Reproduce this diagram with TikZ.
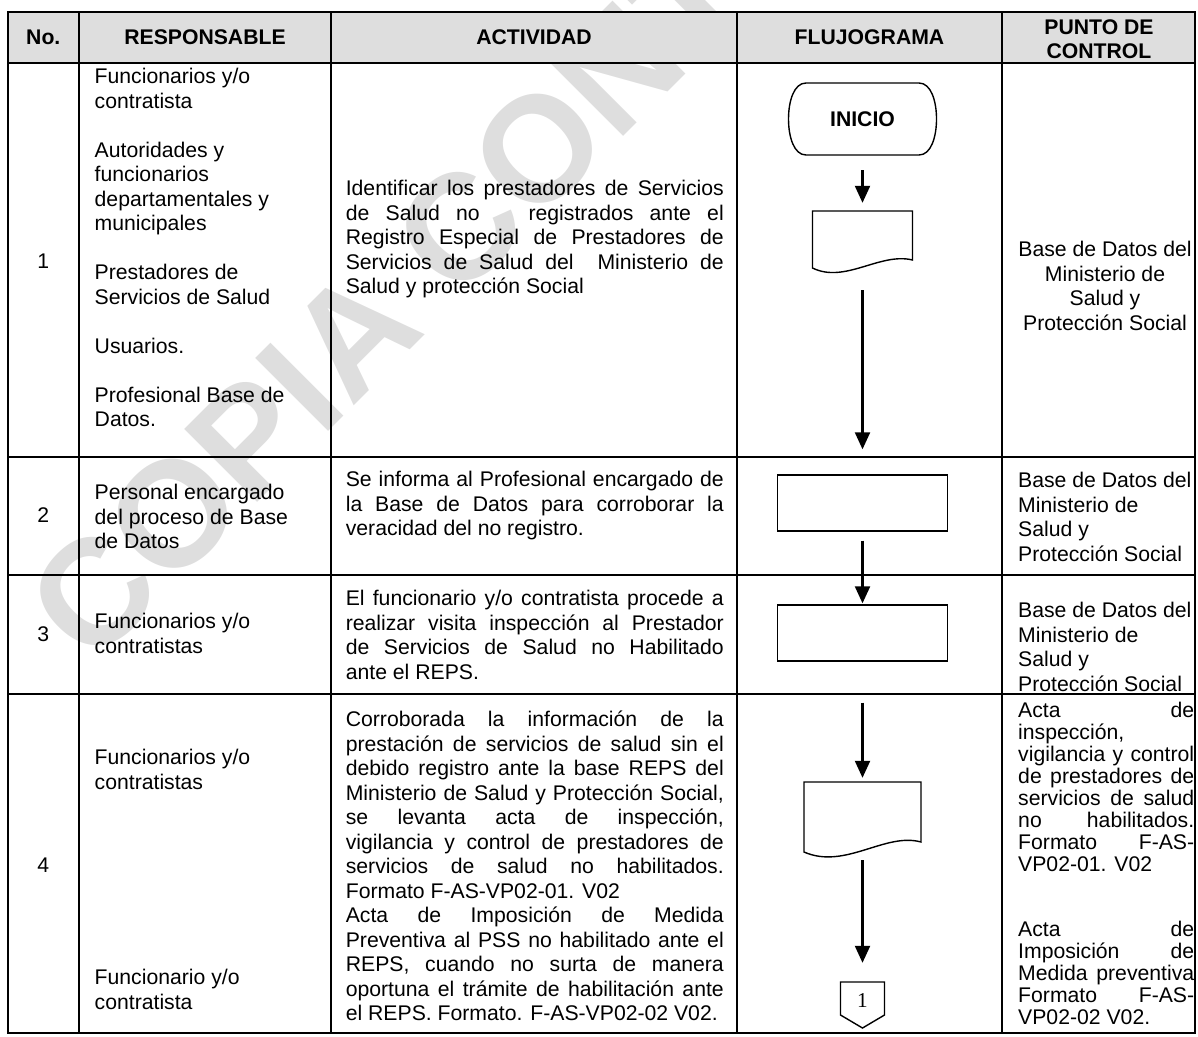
\documentclass[tikz,border=0pt]{standalone}
\usepackage{fontspec}
\setmainfont{Liberation Sans}
\newfontfamily\fuenteserif{Liberation Serif}
\usetikzlibrary{arrows.meta,positioning}
\definecolor{grisclaro}{gray}{0.87}
\tolerance=10000 \hbadness=10000 \hyphenpenalty=10000 \exhyphenpenalty=10000

\begin{document}
\begin{tikzpicture}[x=1pt,y=-1pt,
  borde/.style={line width=2pt},
  forma/.style={line width=1.4pt},
  caja/.style={draw,forma,inner sep=0pt,minimum width=170pt,minimum height=56pt},
  flecha/.style={line width=2.2pt,-{Triangle[length=17pt,width=15pt]}},
  texto/.style={inner sep=0pt,anchor=north west,align=left,font=\fontsize{21.2}{24.5}\selectfont},
  justo/.style={texto,align=justify,text width=#1},
  titulo/.style={inner sep=0pt,align=center,font=\bfseries\fontsize{21.2}{24.5}\selectfont},
  numero/.style={inner sep=0pt,font=\fontsize{21.2}{24.5}\selectfont},
  marca/.style={inner sep=0pt,rotate=45,text=grisclaro,font=\bfseries\fontsize{150}{150}\selectfont}]

\useasboundingbox (0,0) rectangle (1198,1036);

% encabezado y marca de agua
\fill[grisclaro] (7.5,12) rectangle (1195,63);
\node[marca] (copia) at (615,72) {COPIA CONTROLADA};

% tabla
\draw[borde] (7.5,12) rectangle (1195,1033);
\foreach \y in {63,456.5,575,694} \draw[borde] (7.5,\y) -- (1195,\y);
\foreach \x in {79,331,737,1002} \draw[borde] (\x,12) -- (\x,1033);

\node[titulo] (hno) at (43.3,37.5) {No.};
\node[titulo] (hresp) at (205,37.5) {RESPONSABLE};
\node[titulo] (hact) at (534,37.5) {ACTIVIDAD};
\node[titulo] (hflujo) at (869.5,37.5) {FLUJOGRAMA};
\node[titulo] (hpunto) at (1099,39) {PUNTO DE\\CONTROL};

% numeros
\node[numero] (n1) at (43.3,261) {1};
\node[numero] (n2) at (43.3,515.5) {2};
\node[numero] (n3) at (43.3,634.5) {3};
\node[numero] (n4) at (43.3,865) {4};

% responsables
\node[texto] (r1) at (94.5,68) {Funcionarios y/o\\contratista\\[24.5pt]Autoridades y\\funcionarios\\departamentales y\\municipales\\[24.5pt]Prestadores de\\Servicios de Salud\\[24.5pt]Usuarios.\\[24.5pt]Profesional Base de\\Datos.};
\node[texto] (r2) at (94.5,484) {Personal encargado\\del proceso de Base\\de Datos};
\node[texto] (r3) at (94.5,613) {Funcionarios y/o\\contratistas};
\node[texto] (r4a) at (94.5,749) {Funcionarios y/o\\contratistas};
\node[texto] (r4b) at (94.5,969) {Funcionario y/o\\contratista};

% actividades
\node[justo=378pt] (a1) at (345.6,180) {Identificar los prestadores de Servicios\linebreak de Salud no\ \ \ registrados ante el\linebreak Registro Especial de Prestadores de\linebreak Servicios de Salud del\ \ Ministerio de\linebreak Salud y protección Social};
\node[justo=378pt] (a2) at (345.6,471) {Se informa al Profesional encargado de\linebreak la Base de Datos para corroborar la\linebreak veracidad del no registro.};
\node[justo=378pt] (a3) at (345.6,590) {El funcionario y/o contratista procede a\linebreak realizar visita inspección al Prestador\linebreak de Servicios de Salud no Habilitado\linebreak ante el REPS.};
\node[justo=378pt] (a4) at (345.6,711) {Corroborada la información de la\linebreak prestación de servicios de salud sin el\linebreak debido registro ante la base REPS del\linebreak Ministerio de Salud y Protección Social,\linebreak se levanta acta de inspección,\linebreak vigilancia y control de prestadores de\linebreak servicios de salud no habilitados.\linebreak Formato F-AS-VP02-01. V02\\Acta de Imposición de Medida\linebreak Preventiva al PSS no habilitado ante el\linebreak REPS, cuando no surta de manera\linebreak oportuna el trámite de habilitación ante\linebreak el REPS. Formato. F-AS-VP02-02 V02.};

% puntos de control
\node[texto,align=center,anchor=north] (c1) at (1105,241) {Base de Datos del\\Ministerio de\\Salud y\\Protección Social};
\node[texto] (c2) at (1018,472) {Base de Datos del\\Ministerio de\\Salud y\\Protección Social};
\node[texto] (c3) at (1018,602) {Base de Datos del\\Ministerio de\\Salud y\\Protección Social};
\node[justo=176pt,font=\fontsize{21.2}{22}\selectfont] (c4) at (1018,702) {Acta de\linebreak inspección,\\vigilancia y control\linebreak de prestadores de\linebreak servicios de salud\linebreak no habilitados.\linebreak Formato F-AS-\linebreak VP02-01. V02\\[43pt]Acta de\linebreak Imposición de\linebreak Medida preventiva\linebreak Formato F-AS-\linebreak VP02-02 V02.};

% flujograma
\node[titulo,minimum width=148pt,minimum height=72pt] (inicio) at (862.5,119) {INICIO};
\draw[forma] (806,83) -- (919,83) .. controls (931,83) and (936.5,101) .. (936.5,119) .. controls (936.5,137) and (931,155) .. (919,155) -- (806,155) .. controls (794,155) and (788.5,137) .. (788.5,119) .. controls (788.5,101) and (794,83) .. (806,83) -- cycle;

\node[minimum width=100pt,minimum height=57pt,inner sep=0pt] (doc1) at (862.5,239.5) {};
\draw[forma] (812.5,211) -- (912.5,211) -- (912.5,260) .. controls (880,252) and (845,284) .. (812.5,268) -- cycle;

\node[caja] (datos) at (862.5,503) {};
\node[caja] (visita) at (862.5,633) {};

\node[minimum width=117pt,minimum height=70pt,inner sep=0pt] (doc2) at (862.5,817) {};
\draw[forma] (804,782) -- (921,782) -- (921,842) .. controls (885,832) and (845,870) .. (804,852) -- cycle;

\node[inner sep=0pt,minimum height=36pt,font=\fuenteserif\fontsize{21.2}{24.5}\selectfont] (conector) at (862.5,1000) {1};
\draw[forma] (840.5,982) -- (884.5,982) -- (884.5,1015) -- (862.5,1028) -- (840.5,1015) -- cycle;

\draw[flecha,shorten <=15pt,shorten >=8pt] (inicio) -- (doc1);
\draw[flecha,shorten <=22pt,shorten >=25pt] (doc1) -- (datos);
\draw[flecha,shorten <=9pt,shorten >=1pt] (datos) -- (visita);
\draw[flecha,shorten <=41pt,shorten >=4pt] (visita) -- (doc2);
\draw[flecha,shorten <=8pt,shorten >=19pt] (doc2) -- (conector);
\end{tikzpicture}
\end{document}
